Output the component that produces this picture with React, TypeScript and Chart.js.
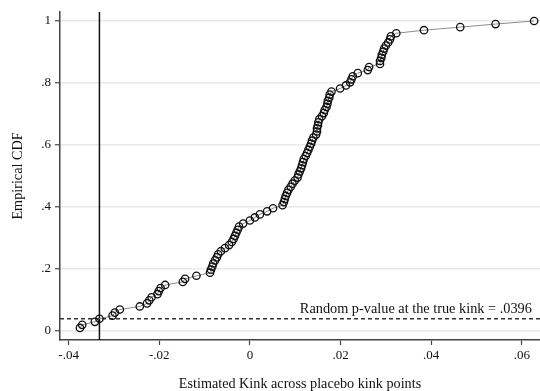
import React, { useEffect, useRef } from "react";
import { Chart, registerables } from "chart.js";

Chart.register(...registerables);

// Estimated kinks at placebo kink points (sorted)
const kinkEstimates = [
  -0.0375, -0.0370, -0.0342, -0.0332, -0.0303, -0.0298, -0.0287, -0.0243, -0.0227, -0.0222,
  -0.0217, -0.0204, -0.0201, -0.0197, -0.0187, -0.0148, -0.0143, -0.0118, -0.0088, -0.0086,
  -0.0083, -0.0081, -0.0077, -0.0073, -0.0070, -0.0064, -0.0055, -0.0046, -0.0040, -0.0036,
  -0.0033, -0.0030, -0.0027, -0.0024, -0.0015, 0.0000, 0.0011, 0.0022, 0.0038, 0.0051,
  0.0072, 0.0075, 0.0077, 0.0079, 0.0082, 0.0085, 0.0090, 0.0094, 0.0099, 0.0105,
  0.0107, 0.0110, 0.0113, 0.0115, 0.0117, 0.0119, 0.0123, 0.0126, 0.0129, 0.0132,
  0.0135, 0.0137, 0.0140, 0.0146, 0.0148, 0.0148, 0.0150, 0.0151, 0.0153, 0.0159,
  0.0163, 0.0165, 0.0169, 0.0171, 0.0172, 0.0175, 0.0176, 0.0180, 0.0199, 0.0212,
  0.0221, 0.0224, 0.0227, 0.0238, 0.0260, 0.0263, 0.0287, 0.0287, 0.0290, 0.0291,
  0.0294, 0.0296, 0.0300, 0.0305, 0.0309, 0.0311, 0.0323, 0.0384, 0.0464, 0.0542,
  0.0627,
];

// Empirical CDF values (rank / 101)
const empiricalCdf = [
  0.0099, 0.0198, 0.0297, 0.0396, 0.0495, 0.0594, 0.0693, 0.0792, 0.0891, 0.0990,
  0.1089, 0.1188, 0.1287, 0.1386, 0.1485, 0.1584, 0.1683, 0.1782, 0.1881, 0.1980,
  0.2079, 0.2178, 0.2277, 0.2376, 0.2475, 0.2574, 0.2673, 0.2772, 0.2871, 0.2970,
  0.3069, 0.3168, 0.3267, 0.3366, 0.3465, 0.3564, 0.3663, 0.3762, 0.3861, 0.3960,
  0.4059, 0.4158, 0.4257, 0.4356, 0.4455, 0.4554, 0.4653, 0.4752, 0.4851, 0.4950,
  0.5050, 0.5149, 0.5248, 0.5347, 0.5446, 0.5545, 0.5644, 0.5743, 0.5842, 0.5941,
  0.6040, 0.6139, 0.6238, 0.6337, 0.6436, 0.6535, 0.6634, 0.6733, 0.6832, 0.6931,
  0.7030, 0.7129, 0.7228, 0.7327, 0.7426, 0.7525, 0.7624, 0.7723, 0.7822, 0.7921,
  0.8020, 0.8119, 0.8218, 0.8317, 0.8416, 0.8515, 0.8614, 0.8713, 0.8812, 0.8911,
  0.9010, 0.9109, 0.9208, 0.9307, 0.9406, 0.9505, 0.9604, 0.9703, 0.9802, 0.9901,
  1.0,
];

const xTickValues = [-0.04, -0.02, 0, 0.02, 0.04, 0.06];
const yTickValues = [0, 0.2, 0.4, 0.6, 0.8, 1];

const TRUE_KINK = -0.0332;
const P_VALUE = 0.0396;
const P_LABEL = "Random p-value at the true kink = .0396";
const P_LABEL_X = 0.0622;

const X_MIN = -0.0419;
const X_MAX = 0.064;
const Y_MIN = -0.029;
const Y_MAX = 1.029;

const X_TITLE = "Estimated Kink across placebo kink points";
const Y_TITLE = "Empirical CDF";

const FONT = '"Liberation Serif", "Times New Roman", serif';

function fmt(v: number): string {
  const r = Math.round(v * 1000) / 1000;
  if (r === 0) return "0";
  if (r === 1) return "1";
  let s = String(r);
  s = s.replace("0.", ".");
  return s;
}

const labelPlugin = {
  id: "pvalueLabel",
  afterDatasetsDraw(chart: any) {
    const { ctx, scales } = chart;
    const x = scales.x;
    const y = scales.y;
    ctx.save();
    ctx.font = `14.3px ${FONT}`;
    ctx.fillStyle = "#111";
    ctx.textAlign = "right";
    ctx.textBaseline = "alphabetic";
    ctx.fillText(P_LABEL, x.getPixelForValue(P_LABEL_X), y.getPixelForValue(P_VALUE) - 5.5);
    ctx.restore();
  },
};

export default function App() {
  const canvasRef = useRef<HTMLCanvasElement | null>(null);

  useEffect(() => {
    const canvas = canvasRef.current;
    if (!canvas) return;
    const chart = new Chart(canvas, {
      type: "scatter",
      data: {
        datasets: [
          {
            data: kinkEstimates.map((v, i) => ({ x: v, y: empiricalCdf[i] })),
            showLine: true,
            borderColor: "#8c8c8c",
            borderWidth: 1,
            pointRadius: 3.7,
            pointBorderColor: "#111",
            pointBackgroundColor: "rgba(0,0,0,0)",
            pointBorderWidth: 1.3,
            clip: false,
          },
          {
            data: [
              { x: TRUE_KINK, y: Y_MIN },
              { x: TRUE_KINK, y: Y_MAX },
            ],
            showLine: true,
            borderColor: "#111",
            borderWidth: 1.5,
            pointRadius: 0,
          },
          {
            data: [
              { x: X_MIN, y: P_VALUE },
              { x: X_MAX, y: P_VALUE },
            ],
            showLine: true,
            borderColor: "#333",
            borderWidth: 1.3,
            borderDash: [4, 3],
            pointRadius: 0,
          },
        ],
      },
      options: {
        animation: false,
        responsive: false,
        devicePixelRatio: 1,
        layout: { autoPadding: false, padding: { top: 12, right: 0, left: 0, bottom: 0 } },
        plugins: {
          legend: { display: false },
          tooltip: { enabled: false },
        },
        scales: {
          x: {
            type: "linear",
            min: X_MIN,
            max: X_MAX,
            afterBuildTicks: (scale: any) => {
              scale.ticks = xTickValues.map((v) => ({ value: v }));
            },
            afterFit: (scale: any) => {
              scale.height = 51;
              scale.paddingLeft = 0;
              scale.paddingRight = 0;
            },
            ticks: {
              autoSkip: false,
              maxRotation: 0,
              padding: 3,
              color: "#111",
              font: { family: FONT, size: 13 },
              callback: (v: any) => fmt(Number(v)),
            },
            grid: {
              drawOnChartArea: false,
              drawTicks: true,
              tickLength: 5,
              tickColor: "#444",
              tickWidth: 1.2,
            },
            border: { display: true, color: "#444", width: 1.5 },
            title: {
              display: true,
              text: X_TITLE,
              color: "#111",
              font: { family: FONT, size: 14.2 },
              padding: { top: 0, bottom: -2 },
            },
          },
          y: {
            type: "linear",
            min: Y_MIN,
            max: Y_MAX,
            afterBuildTicks: (scale: any) => {
              scale.ticks = yTickValues.map((v) => ({ value: v }));
            },
            afterFit: (scale: any) => {
              scale.width = 60;
              scale.paddingTop = 0;
              scale.paddingBottom = 0;
            },
            ticks: {
              autoSkip: false,
              padding: 4,
              color: "#111",
              font: { family: FONT, size: 13 },
              callback: (v: any) => fmt(Number(v)),
            },
            grid: {
              color: "#e9e9e9",
              lineWidth: 1.5,
              drawTicks: true,
              tickLength: 5,
              tickColor: "#444",
              tickWidth: 1.2,
            },
            border: { display: true, color: "#444", width: 1.5 },
            title: {
              display: true,
              text: Y_TITLE,
              color: "#111",
              font: { family: FONT, size: 14.2 },
              padding: { top: 10, bottom: 0 },
            },
          },
        },
      },
      plugins: [labelPlugin],
    } as any);
    return () => chart.destroy();
  }, []);

  return (
    <div style={{ position: "absolute", left: 0, top: 0, width: 540, height: 391, background: "#fff" }}>
      <canvas ref={canvasRef} width={540} height={391} style={{ display: "block" }} />
    </div>
  );
}
